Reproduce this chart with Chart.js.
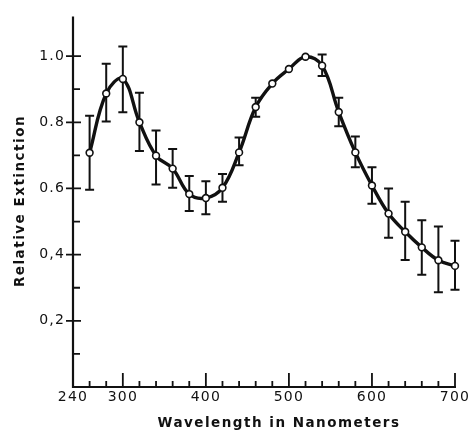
<!DOCTYPE html>
<html>
<head>
<meta charset="utf-8">
<script src="https://cdn.jsdelivr.net/npm/chart.js@4"></script>
<style>
  html, body { margin: 0; padding: 0; background: #fff; }
  #wrap { width: 474px; height: 434px; position: relative; }
</style>
</head>
<body>
<div id="wrap"><canvas id="c" width="474" height="434"></canvas></div>
<script>
const wavelengths = [260, 280, 300, 320, 340, 360, 380, 400, 420, 440, 460, 480, 500, 520, 540, 560, 580, 600, 620, 640, 660, 680, 700];
const extinction  = [0.708, 0.887, 0.931, 0.800, 0.699, 0.660, 0.583, 0.571, 0.602, 0.709, 0.846, 0.917, 0.961, 0.998, 0.971, 0.831, 0.709, 0.609, 0.524, 0.469, 0.422, 0.383, 0.366];
const errHigh     = [0.820, 0.977, 1.029, 0.889, 0.775, 0.719, 0.638, 0.622, 0.644, 0.754, 0.874, null, null, null, 1.005, 0.874, 0.757, 0.664, 0.600, 0.560, 0.504, 0.485, 0.442];
const errLow      = [0.596, 0.802, 0.830, 0.713, 0.612, 0.602, 0.532, 0.522, 0.560, 0.670, 0.817, null, null, null, 0.940, 0.788, 0.664, 0.554, 0.451, 0.384, 0.339, 0.286, 0.294];
const xTickLabels = [240, 300, 400, 500, 600, 700];
const yTickLabels = {"0.2": "0,2", "0.4": "0,4", "0.6": "0.6", "0.8": "0.8", "1.0": "1.0"};
const xTitle = "Wavelength in Nanometers";
const yTitle = "Relative Extinction";

const TICK_FONT = "DejaVu Sans";

const axesPlugin = {
  id: 'axesPlugin',
  beforeDraw(chart) {
    chart.ctx.letterSpacing = '1.2px';
  },
  beforeDatasetsDraw(chart) {
    const ctx = chart.ctx;
    const xs = chart.scales.x, ys = chart.scales.y;
    ctx.save();
    ctx.strokeStyle = '#111';
    ctx.lineWidth = 2;
    ctx.lineCap = 'butt';
    for (let i = 0; i < wavelengths.length; i++) {
      if (errHigh[i] == null || errLow[i] == null) continue;
      const px = xs.getPixelForValue(wavelengths[i]);
      const yt = ys.getPixelForValue(errHigh[i]);
      const yb = ys.getPixelForValue(errLow[i]);
      ctx.beginPath();
      ctx.moveTo(px, yt); ctx.lineTo(px, yb);
      ctx.moveTo(px - 4.5, yt); ctx.lineTo(px + 4.5, yt);
      ctx.moveTo(px - 4.5, yb); ctx.lineTo(px + 4.5, yb);
      ctx.stroke();
    }
    ctx.restore();
  },
  afterDraw(chart) {
    const ctx = chart.ctx;
    const xs = chart.scales.x, ys = chart.scales.y;
    const area = chart.chartArea;
    const x0 = xs.getPixelForValue(240), x1 = xs.getPixelForValue(700);
    const y0 = ys.getPixelForValue(0);
    ctx.save();
    ctx.strokeStyle = '#111';
    ctx.lineWidth = 2.2;
    ctx.beginPath();
    ctx.moveTo(x0, area.top); ctx.lineTo(x0, y0 + 1);
    ctx.moveTo(x0 - 1, y0); ctx.lineTo(x1 + 1, y0);
    ctx.stroke();
    ctx.lineWidth = 1.8;
    ctx.beginPath();
    for (let v = 260; v <= 700; v += 20) {
      const px = xs.getPixelForValue(v);
      const len = (v % 100 === 0) ? 14 : 6;
      ctx.moveTo(px, y0); ctx.lineTo(px, y0 - len);
    }
    for (let k = 1; k <= 10; k++) {
      const v = k / 10;
      const py = ys.getPixelForValue(v);
      if (k % 2 === 0) { ctx.moveTo(x0 - 7, py); ctx.lineTo(x0 + 8, py); }
      else { ctx.moveTo(x0, py); ctx.lineTo(x0 + 7, py); }
    }
    ctx.stroke();
    ctx.fillStyle = '#111';
    ctx.font = 'bold 13.5px "DejaVu Sans"';
    ctx.letterSpacing = '1.5px';
    ctx.textAlign = 'center';
    ctx.textBaseline = 'middle';
    ctx.fillText(xTitle, 279, 423);
    ctx.translate(20, 201);
    ctx.rotate(-Math.PI / 2);
    ctx.fillText(yTitle, 0, 0);
    ctx.restore();
  }
};

new Chart(document.getElementById('c'), {
  type: 'scatter',
  data: {
    datasets: [{
      label: yTitle,
      data: wavelengths.map((w, i) => ({ x: w, y: extinction[i] })),
      showLine: true,
      borderColor: '#111',
      borderWidth: 3.4,
      tension: 0.4,
      pointRadius: 3.4,
      pointBackgroundColor: '#fff',
      pointBorderColor: '#111',
      pointBorderWidth: 1.6,
      clip: false
    }]
  },
  options: {
    responsive: false,
    animation: false,
    devicePixelRatio: 1,
    layout: { padding: { top: 12, right: 19, left: 0, bottom: 0 } },
    plugins: { legend: { display: false }, tooltip: { enabled: false } },
    scales: {
      x: {
        type: 'linear', min: 240, max: 700,
        grid: { display: false, drawTicks: false },
        border: { display: false },
        afterFit(s) { s.height = 47; },
        afterBuildTicks(s) { s.ticks = xTickLabels.map(v => ({ value: v })); },
        ticks: {
          autoSkip: false, maxRotation: 0, padding: 2,
          color: '#111',
          font: { family: TICK_FONT, size: 14 },
          callback: v => String(v)
        }
      },
      y: {
        type: 'linear', min: 0, max: 1.12,
        grid: { display: false, drawTicks: false },
        border: { display: false },
        afterFit(s) { s.width = 73; },
        afterBuildTicks(s) { s.ticks = Object.keys(yTickLabels).map(k => ({ value: parseFloat(k) })); },
        ticks: {
          autoSkip: false, padding: 8,
          color: '#111',
          font: { family: TICK_FONT, size: 14 },
          callback: v => yTickLabels[v.toFixed(1)] || ''
        }
      }
    }
  },
  plugins: [axesPlugin]
});
</script>
</body>
</html>
